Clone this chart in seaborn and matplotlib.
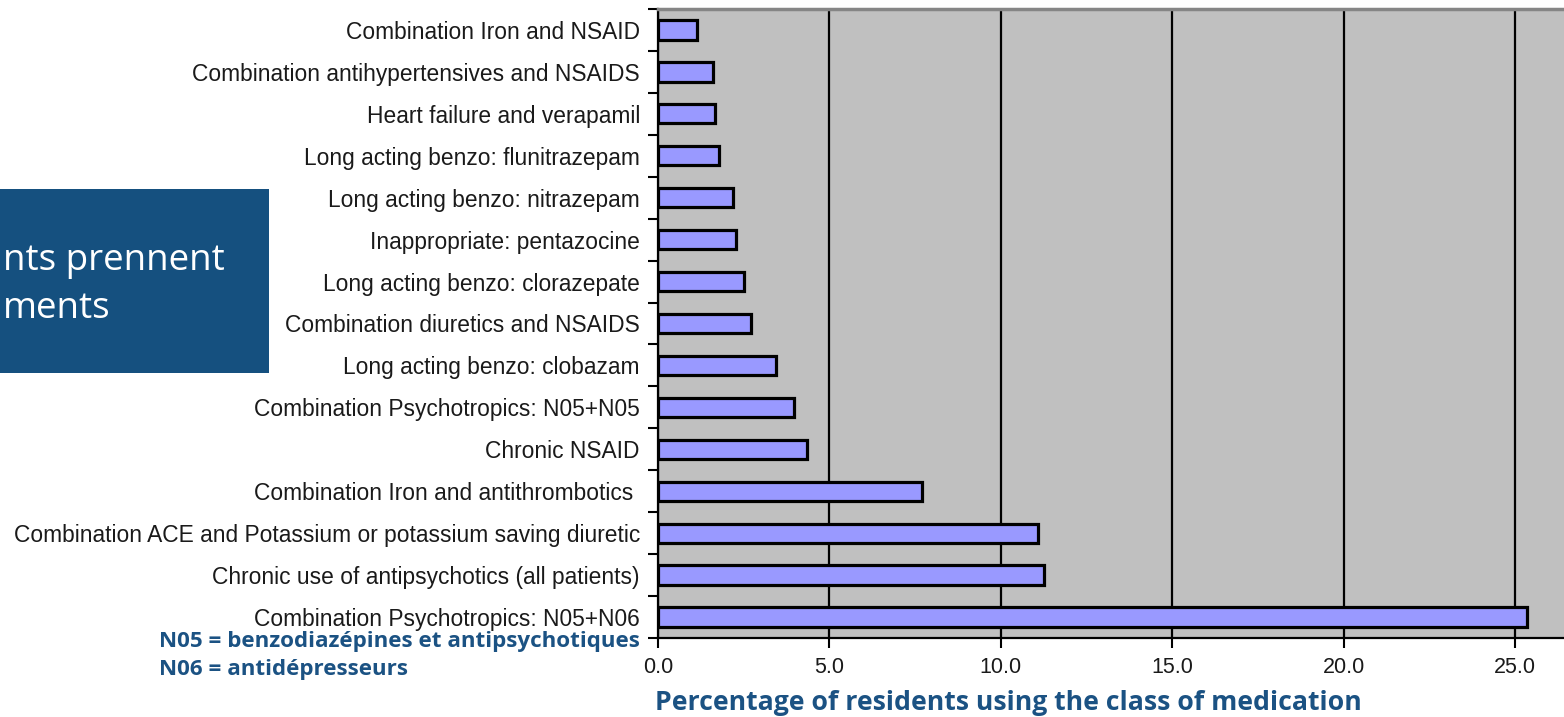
import matplotlib
matplotlib.use("Agg")
import matplotlib.pyplot as plt
import seaborn as sns
import pandas as pd
from matplotlib.patches import Rectangle

# Medication classes, listed top to bottom
categories = [
    "Combination Iron and NSAID",
    "Combination antihypertensives and NSAIDS",
    "Heart failure and verapamil",
    "Long acting benzo: flunitrazepam",
    "Long acting benzo: nitrazepam",
    "Inappropriate: pentazocine",
    "Long acting benzo: clorazepate",
    "Combination diuretics and NSAIDS",
    "Long acting benzo: clobazam",
    "Combination Psychotropics: N05+N05",
    "Chronic NSAID",
    "Combination Iron and antithrombotics ",
    "Combination ACE and Potassium or potassium saving diuretic",
    "Chronic use of antipsychotics (all patients)",
    "Combination Psychotropics: N05+N06",
]
# Percentage of residents using each class
percentages = [1.15, 1.6, 1.66, 1.78, 2.2, 2.27, 2.5, 2.7, 3.43, 3.97,
               4.35, 7.7, 11.08, 11.25, 25.33]

x_ticks = [0, 5, 10, 15, 20, 25]
x_tick_labels = ["0.0", "5.0", "10.0", "15.0", "20.0", "25.0"]

x_label = "Percentage of residents using the class of medication"
notes = ["N05 = benzodiazépines et antipsychotiques", "N06 = antidépresseurs"]
box_lines = ["nts prennent", "ments"]

W, H = 1564, 717
fig = plt.figure(figsize=(W / 100, H / 100), dpi=100)
fig.patch.set_facecolor("white")

ax_left, ax_right, ax_top, ax_bottom = 658, 1564, 9, 638
ax = fig.add_axes([ax_left / W, 1 - ax_bottom / H,
                   (ax_right - ax_left) / W, (ax_bottom - ax_top) / H])

df = pd.DataFrame({"category": categories, "pct": percentages})
sns.barplot(data=df, x="pct", y="category", orient="h", color="#9999FF",
            saturation=1, edgecolor="black", linewidth=2.3, width=0.46,
            ax=ax, zorder=3)

ax.set_facecolor("#C0C0C0")
ax.set_xlim(0, 26.42)
ax.set_ylim(len(categories) - 0.5, -0.5)

label_font = "Liberation Sans"
ax.set_axisbelow(True)
ax.set_xticks(x_ticks)
ax.set_xticklabels(x_tick_labels, fontsize=15.5, family=label_font, color="#1a1a1a")
ax.xaxis.grid(True, color="black", linewidth=1.6)
ax.yaxis.grid(False)
ax.tick_params(axis="x", direction="out", length=7, width=1.5, pad=7)

ax.set_yticks(range(len(categories)))
ax.set_yticklabels(categories, fontsize=16.4, family=label_font, color="#1a1a1a")
ax.set_yticks([i - 0.5 for i in range(len(categories) + 1)], minor=True)
ax.tick_params(axis="y", which="major", length=0, pad=13)
ax.tick_params(axis="y", which="minor", direction="out", length=7, width=1.5)
ax.set_xlabel("")
ax.set_ylabel("")

for side in ("left", "bottom"):
    ax.spines[side].set_color("black")
    ax.spines[side].set_linewidth(1.6)
ax.spines["top"].set_color("#858585")
ax.spines["top"].set_linewidth(2.5)
ax.spines["right"].set_visible(False)

note_font = "Open Sans"
title_blue = "#1B5283"
fig.text(1008 / W, 1 - 710 / H, x_label, ha="center", va="baseline",
         fontsize=19.2, fontweight="bold", color=title_blue, family=note_font)

fig.text(159 / W, 1 - 647 / H, notes[0], ha="left", va="baseline",
         fontsize=16.1, fontweight="bold", color=title_blue, family=note_font)
fig.text(159 / W, 1 - 675 / H, notes[1], ha="left", va="baseline",
         fontsize=16.1, fontweight="bold", color=title_blue, family=note_font)

# Dark blue call-out box on the left edge
fig.patches.append(Rectangle((0, 1 - 373 / H), 269 / W, (373 - 189) / H,
                             transform=fig.transFigure, facecolor="#15507F",
                             edgecolor="none", zorder=1))
fig.text(3 / W, 1 - 270 / H, box_lines[0], ha="left", va="baseline",
         fontsize=26.5, color="white", family=note_font, zorder=2)
fig.text(3 / W, 1 - 318 / H, box_lines[1], ha="left", va="baseline",
         fontsize=26.5, color="white", family=note_font, zorder=2)

fig.savefig("out.png", dpi=100)
